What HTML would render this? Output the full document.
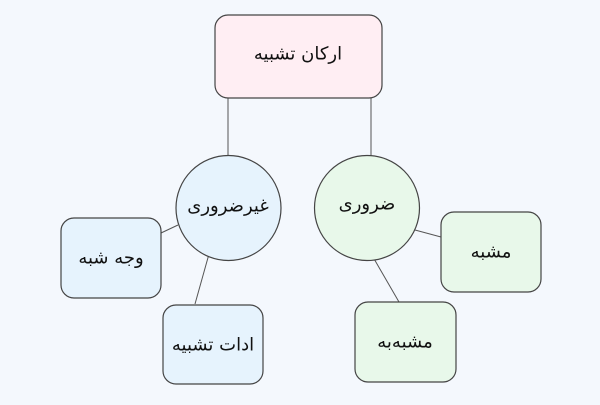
<!DOCTYPE html>
<html><head><meta charset="utf-8"><style>
body{margin:0;background:#f4f8fd;}
svg text{font-family:"DejaVu Sans","Noto Sans CJK SC",sans-serif;font-size:18px;fill:#111;text-anchor:middle;dominant-baseline:central;}
</style></head><body>
<svg width="600" height="400" xmlns="http://www.w3.org/2000/svg">
<rect width="600" height="400" fill="#f4f8fd"/>
<g stroke="#555" stroke-width="1">
<line x1="228" y1="98" x2="228" y2="156"/>
<line x1="371" y1="98" x2="371" y2="156"/>
<line x1="161" y1="233" x2="178" y2="225"/>
<line x1="209" y1="254" x2="195" y2="304"/>
<line x1="373" y1="257" x2="399" y2="302"/>
<line x1="415" y1="230" x2="441" y2="237"/>
</g>
<g stroke="#444" stroke-width="1.2">
<rect x="215" y="15" width="167" height="83" rx="13" fill="#ffeef3"/>
<circle cx="228.5" cy="208" r="52.5" fill="#e6f3fd"/>
<circle cx="367" cy="208" r="52.5" fill="#e8f8ea"/>
<rect x="61" y="218" width="100" height="80" rx="13" fill="#e6f3fd"/>
<rect x="163" y="305" width="100" height="79" rx="13" fill="#e6f3fd"/>
<rect x="441" y="212" width="100" height="80" rx="13" fill="#e8f8ea"/>
<rect x="355" y="302" width="101" height="80" rx="13" fill="#e8f8ea"/>
</g>
<text x="298" y="54">ارکان تشبیه</text>
<text x="228" y="206">غیرضروری</text>
<text x="367" y="204">ضروری</text>
<text x="111" y="258">وجه شبه</text>
<text x="213" y="345">ادات تشبیه</text>
<text x="491" y="252">مشبه</text>
<text x="405" y="342">مشبه‌به</text>
</svg>
</body></html>
